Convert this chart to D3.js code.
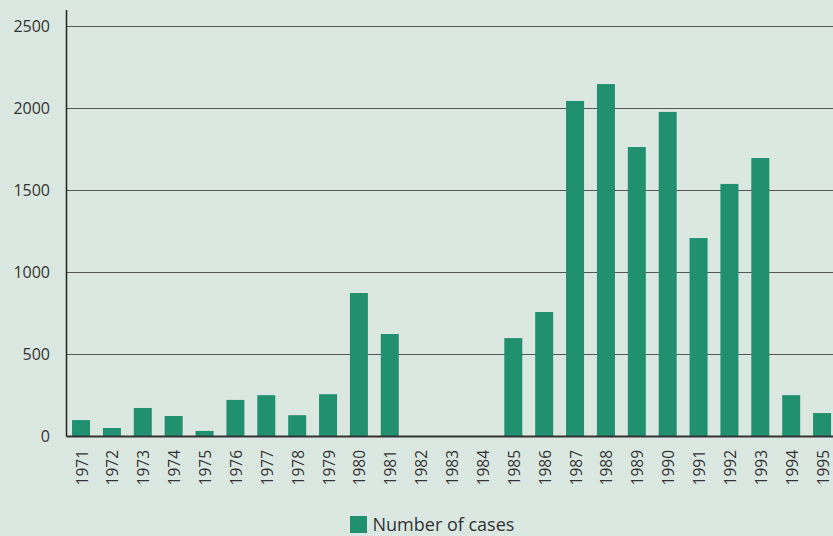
<!DOCTYPE html>
<html>
<head>
<meta charset="UTF-8">
<style>
  * { margin: 0; padding: 0; }
  body { background: #dbe8e2; overflow: hidden; }
  svg { display: block; font-family: "Open Sans", sans-serif; }
</style>
</head>
<body>
<svg id="chart" width="833" height="536"></svg>
<script src="https://d3js.org/d3.v7.min.js"></script>
<script>
const years = ["1971","1972","1973","1974","1975","1976","1977","1978","1979","1980","1981","1982","1983",
  "1984","1985","1986","1987","1988","1989","1990","1991","1992","1993","1994","1995"];
const cases = [100, 52, 174, 125, 34, 223, 252, 130, 258, 875, 625, 0, 0,
  0, 600, 759, 2046, 2149, 1765, 1979, 1210, 1540, 1698, 252, 143];
const yTicks = [0, 500, 1000, 1500, 2000, 2500];
const seriesName = "Number of cases";
const barColor = "#21906f";

const svg = d3.select("#chart");
const x0 = 66.5, yZero = 436.5, yTop = 26.5;

const x = d3.scaleBand().domain(years).range([65.6, 837.5]).paddingInner(0.417).paddingOuter(0.2085);
const y = d3.scaleLinear().domain([0, 2500]).range([yZero, yTop]);

// grid lines
svg.append("g").selectAll("line").data(yTicks.filter(d => d > 0)).join("line")
  .attr("x1", x0).attr("x2", 833)
  .attr("y1", d => y(d)).attr("y2", d => y(d))
  .attr("stroke", "#555").attr("stroke-width", 1.2);

// bars
svg.append("g").selectAll("rect").data(cases).join("rect")
  .attr("x", (d, i) => x(years[i]))
  .attr("width", x.bandwidth())
  .attr("y", d => y(d))
  .attr("height", d => yZero - y(d))
  .attr("fill", barColor);

// axes lines
svg.append("line").attr("x1", x0).attr("x2", x0).attr("y1", 10).attr("y2", yZero)
  .attr("stroke", "#222").attr("stroke-width", 1.5);
svg.append("line").attr("x1", x0).attr("x2", 833).attr("y1", yZero).attr("y2", yZero)
  .attr("stroke", "#333").attr("stroke-width", 2);

// y labels
svg.append("g").selectAll("text").data(yTicks).join("text")
  .attr("x", 50).attr("y", d => y(d)).attr("dy", "0.35em")
  .attr("text-anchor", "end").attr("font-size", 16).attr("fill", "#333")
  .text(d => d);

// x labels (rotated)
svg.append("g").selectAll("text").data(years).join("text")
  .attr("transform", d => `translate(${x(d) + x.bandwidth() / 2 + 6.5},450) rotate(-90)`)
  .attr("text-anchor", "end").attr("font-size", 15.5).attr("fill", "#333")
  .text(d => d);

// legend
const legend = svg.append("g").attr("transform", "translate(350,516)");
legend.append("rect").attr("width", 17).attr("height", 17).attr("fill", barColor);
legend.append("text").attr("x", 22.5).attr("y", 15).attr("font-size", 18).attr("fill", "#333").text(seriesName);
</script>
</body>
</html>
